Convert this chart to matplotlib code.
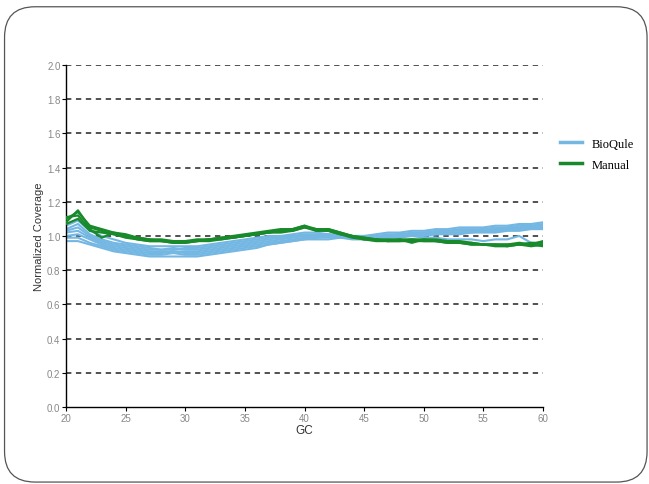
import numpy as np
import matplotlib
matplotlib.use("Agg")
import matplotlib.pyplot as plt
from matplotlib.patches import FancyBboxPatch

# data: GC 20..60, one value per GC unit
gc = list(range(20, 61))

bioqule_runs = [
    [1.02, 1.03, 0.99, 0.96, 0.94, 0.93, 0.92, 0.91, 0.91, 0.91, 0.91, 0.91, 0.92, 0.93, 0.94, 0.95, 0.96, 0.97, 0.98, 0.99, 1.00,
     1.00, 1.00, 1.00, 0.99, 0.99, 1.00, 1.00, 1.01, 1.01, 1.01, 1.02, 1.02, 1.02, 1.03, 1.03, 1.03, 1.04, 1.04, 1.05, 1.05],
    [1.06, 1.09, 1.03, 1.00, 0.98, 0.96, 0.95, 0.94, 0.94, 0.94, 0.94, 0.94, 0.95, 0.96, 0.97, 0.98, 0.99, 1.00, 1.00, 1.01, 1.02,
     1.02, 1.01, 1.01, 1.00, 1.00, 1.01, 1.02, 1.02, 1.03, 1.03, 1.04, 1.04, 1.05, 1.05, 1.05, 1.06, 1.06, 1.07, 1.07, 1.08],
    [0.97, 0.97, 0.95, 0.93, 0.91, 0.90, 0.89, 0.88, 0.88, 0.88, 0.88, 0.88, 0.89, 0.90, 0.91, 0.92, 0.93, 0.95, 0.96, 0.97, 0.98,
     0.98, 0.98, 0.99, 0.99, 0.98, 0.99, 0.99, 1.00, 1.00, 1.00, 1.01, 1.01, 1.01, 1.02, 1.02, 1.02, 1.03, 1.03, 1.04, 1.04],
    [1.00, 1.01, 0.98, 0.95, 0.93, 0.92, 0.91, 0.90, 0.90, 0.91, 0.90, 0.90, 0.91, 0.92, 0.93, 0.94, 0.95, 0.96, 0.97, 0.98, 0.99,
     0.99, 1.00, 1.00, 0.99, 0.99, 1.00, 1.00, 1.01, 1.01, 1.02, 1.02, 1.03, 1.03, 1.03, 1.04, 1.04, 1.05, 1.05, 1.06, 1.06],
    [1.03, 1.05, 1.00, 0.97, 0.95, 0.94, 0.93, 0.92, 0.92, 0.93, 0.92, 0.92, 0.93, 0.94, 0.95, 0.96, 0.97, 0.98, 0.99, 1.00, 1.00,
     1.00, 1.00, 1.00, 0.99, 0.99, 0.99, 0.99, 0.99, 1.00, 0.99, 0.99, 0.98, 0.98, 0.98, 0.97, 0.98, 0.98, 1.00, 0.96, 0.95],
    [1.04, 1.07, 1.01, 0.98, 0.96, 0.95, 0.94, 0.93, 0.92, 0.92, 0.93, 0.93, 0.94, 0.95, 0.96, 0.97, 0.98, 0.99, 0.99, 1.00, 1.01,
     1.01, 1.01, 1.00, 1.00, 1.00, 1.00, 1.01, 1.01, 1.02, 1.02, 1.03, 1.03, 1.04, 1.04, 1.04, 1.05, 1.05, 1.06, 1.06, 1.07],
    [0.99, 0.99, 0.96, 0.94, 0.92, 0.91, 0.90, 0.89, 0.89, 0.90, 0.89, 0.89, 0.90, 0.91, 0.92, 0.93, 0.94, 0.95, 0.96, 0.97, 0.98,
     0.99, 0.99, 0.99, 0.98, 0.98, 0.99, 1.00, 1.00, 1.01, 1.01, 1.01, 1.02, 1.02, 1.02, 1.03, 1.03, 1.04, 1.04, 1.05, 1.05],
]

manual_runs = [
    [1.08, 1.15, 1.05, 1.03, 1.01, 1.00, 0.99, 0.98, 0.97, 0.97, 0.97, 0.97, 0.98, 0.99, 0.99, 1.00, 1.01, 1.02, 1.03, 1.04, 1.06,
     1.03, 1.04, 1.02, 1.00, 0.99, 0.98, 0.97, 0.97, 0.98, 0.98, 0.97, 0.97, 0.96, 0.96, 0.95, 0.95, 0.95, 0.95, 0.94, 0.95],
    [1.11, 1.12, 1.04, 0.99, 1.02, 1.00, 0.98, 0.97, 0.97, 0.96, 0.96, 0.97, 0.98, 0.98, 0.99, 1.00, 1.01, 1.02, 1.03, 1.03, 1.05,
     1.04, 1.03, 1.01, 1.00, 0.98, 0.97, 0.97, 0.98, 0.96, 0.98, 0.98, 0.97, 0.97, 0.96, 0.95, 0.95, 0.94, 0.95, 0.95, 0.97],
    [1.10, 1.14, 1.06, 1.04, 1.02, 1.01, 0.99, 0.98, 0.98, 0.97, 0.97, 0.98, 0.98, 0.99, 1.00, 1.01, 1.02, 1.03, 1.04, 1.04, 1.06,
     1.04, 1.04, 1.02, 1.00, 0.99, 0.98, 0.98, 0.98, 0.98, 0.97, 0.97, 0.96, 0.96, 0.95, 0.95, 0.95, 0.95, 0.96, 0.95, 0.94],
    [1.07, 1.10, 1.03, 1.02, 1.01, 0.99, 0.98, 0.97, 0.97, 0.96, 0.96, 0.97, 0.97, 0.98, 0.99, 1.00, 1.01, 1.02, 1.02, 1.03, 1.05,
     1.03, 1.03, 1.01, 0.99, 0.98, 0.98, 0.97, 0.97, 0.97, 0.97, 0.97, 0.96, 0.96, 0.95, 0.95, 0.94, 0.94, 0.95, 0.96, 0.96],
]

blue = "#74b7e3"
green = "#198a2c"

plt.rcParams["font.family"] = ["Liberation Sans", "DejaVu Sans"]

fig = plt.figure(figsize=(6.49, 4.85), dpi=100)

# rounded slide frame
frame = FancyBboxPatch((0.007, 0.004), 0.99, 0.98, boxstyle="round,pad=0,rounding_size=0.047",
                       transform=fig.transFigure, fill=False, edgecolor="#555555", linewidth=0.9,
                       mutation_aspect=649 / 485)
fig.patches.append(frame)

ax = fig.add_axes([0.1017, 0.1588, 0.735, 0.7052])

for y in [0.2, 0.4, 0.6, 0.8, 1.0, 1.2, 1.4, 1.6, 1.8, 2.0]:
    ax.axhline(y, color="#222222", linestyle=(0, (3.5, 3)), linewidth=1.1, zorder=1)

for i, run in enumerate(bioqule_runs):
    ax.plot(gc, run, color=blue, linewidth=1.5, zorder=2, label="BioQule" if i == 0 else None)
for i, run in enumerate(manual_runs):
    ax.plot(gc, run, color=green, linewidth=1.6, zorder=3, label="Manual" if i == 0 else None)

ax.set_xlim(20, 60)
ax.set_ylim(0, 2.0)
ax.set_xticks(range(20, 61, 5))
ax.set_yticks(np.arange(0, 2.01, 0.2))
ax.set_yticklabels(["0.0", "0.2", "0.4", "0.6", "0.8", "1.0", "1.2", "1.4", "1.6", "1.8", "2.0"])
ax.tick_params(labelsize=7, labelcolor="#888888", length=3, width=0.8, pad=1)
for s in ["top", "right"]:
    ax.spines[s].set_visible(False)
ax.spines["left"].set_linewidth(1.0)
ax.spines["bottom"].set_linewidth(1.0)

ax.set_xlabel("GC", fontsize=8.5, color="#333333", labelpad=1)
ax.set_ylabel("Normalized Coverage", fontsize=8, color="#333333", labelpad=2)

leg = fig.legend(loc="upper left", bbox_to_anchor=(0.845, 0.737), frameon=False,
                 prop={"family": "Liberation Serif", "size": 9}, handlelength=1.8,
                 labelspacing=0.7)
for h in leg.legend_handles:
    h.set_linewidth(2.5)

fig.savefig("out.png", dpi=100)
